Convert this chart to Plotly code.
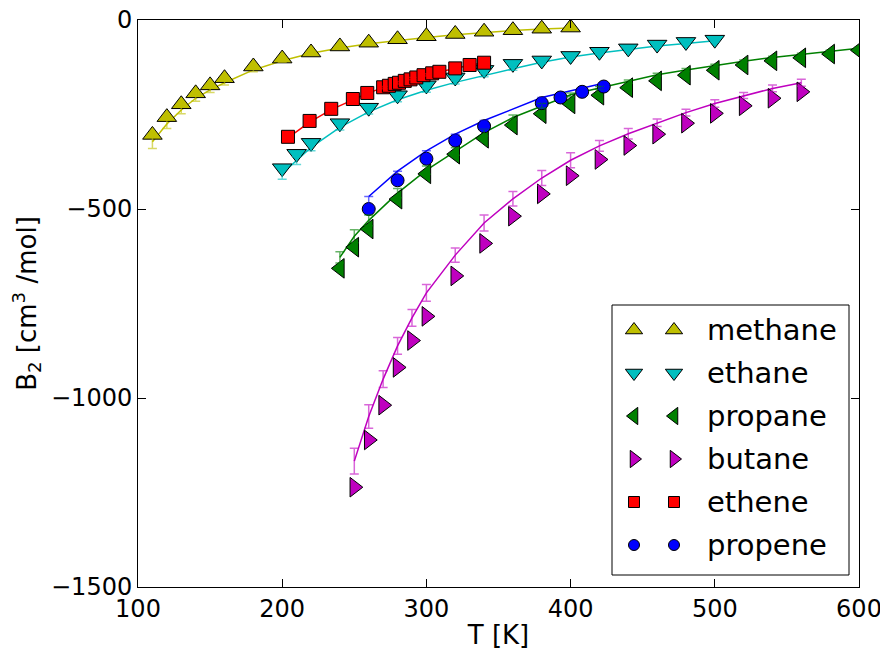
import plotly.graph_objects as go

# ---------------- data ----------------
methane_T = [110, 120, 130, 140, 150, 160, 180, 200, 220, 240, 260, 280, 300, 320, 340, 360, 380, 400]
methane_B_exp = [-304, -257, -223, -194, -173, -154, -123, -102, -86, -70, -60, -51, -43, -37, -31, -27, -23, -20]
methane_B_sim = [-322, -275, -238, -207, -185, -166, -132, -108, -88, -74, -63, -54, -46, -39, -33, -28, -24, -21]
methane_err = [18, 12, 10, 8, 7, 6, 5, 4, 4, 3, 3, 3, 2, 2, 2, 2, 2, 2]

ethane_T = [200, 210, 220, 240, 260, 280, 300, 320, 340, 360, 380, 400, 420, 440, 460, 480, 500]
ethane_B_exp = [-392, -354, -325, -273, -232, -199, -173, -152, -132, -116, -107, -95, -84, -75, -65, -58, -52]
ethane_B_sim = [-406, -372, -337, -284, -243, -211, -186, -165, -146, -129, -112, -98, -87, -78, -69, -62, -55]
ethane_err = [15, 10, 9, 7, 6, 5, 5, 4, 4, 4, 3, 3, 3, 3, 3, 3, 3]

propane_T = [240, 250, 260, 280, 300, 320, 340, 360, 380, 400, 420, 440, 460, 480, 500, 520, 540, 560, 580, 600]
propane_B_exp = [-657, -601, -553, -474, -407, -355, -313, -278, -248, -222, -199, -179, -161, -146, -133, -119, -108, -100, -90, -80]
propane_B_sim = [-628, -572, -530, -458, -397, -348, -298, -258, -227, -198, -180, -163, -145, -132, -120, -109, -99, -91, -83, -75]
propane_err = [15, 17, 14, 12, 11, 10, 9, 7, 6, 5, 4, 4, 4, 4, 3, 3, 3, 3, 3, 3]

butane_T = [250, 260, 270, 280, 290, 300, 320, 340, 360, 380, 400, 420, 440, 460, 480, 500, 520, 540, 560]
butane_B_exp = [-1236, -1111, -1019, -919, -848, -784, -677, -591, -519, -460, -412, -369, -332, -302, -273, -247, -227, -207, -190]
butane_B_sim = [-1167, -1049, -950, -862, -788, -722, -622, -537, -473, -418, -371, -333, -301, -272, -245, -221, -200, -181, -166]
butane_err = [34, 31, 22, 22, 22, 22, 19, 21, 19, 20, 20, 14, 14, 10, 9, 10, 8, 9, 9]

ethene_T_exp = [204, 219, 234, 249, 259, 270, 274, 278, 281, 285, 289, 293, 298, 304, 309, 320, 330, 340]
ethene_B_exp = [-309, -267, -235, -209, -193, -178, -174, -169, -166, -161, -157, -152, -146, -141, -137, -128, -119, -113]
ethene_T_sim = [204, 219, 234, 249, 259, 270, 280, 290, 300, 310, 320, 330, 340]
ethene_B_sim = [-312, -270, -237, -210, -194, -179, -166, -155, -145, -136, -128, -120, -113]
ethene_err = [6, 5, 5, 4, 4, 3, 3, 3, 3, 3, 3, 3, 3]

propene_T_exp = [260, 280, 300, 320, 340, 380, 393, 408, 423]
propene_B_exp = [-500, -424, -367, -319, -281, -220, -205, -190, -176]
propene_T_sim = [260, 280, 300, 320, 340, 380, 422]
propene_B_sim = [-467, -400, -346, -302, -266, -205, -168]
propene_err_minus = [37, 35, 30, 24, 23, 20, 15]
propene_err_plus = [0, 0, 0, 0, 0, 0, 0]

names = ["methane", "ethane", "propane", "butane", "ethene", "propene"]
colors = ["#bfbf00", "#00bfbf", "#008000", "#bf00bf", "#ff0000", "#0000ff"]
err_colors = ["rgba(191,191,0,0.6)", "rgba(0,191,191,0.6)", "rgba(0,128,0,0.6)",
              "rgba(191,0,191,0.6)", "rgba(255,0,0,0.6)", "rgba(0,0,255,0.6)"]
symbols = ["triangle-up", "triangle-down", "triangle-left", "triangle-right", "square", "circle"]
sizes = [17, 17, 17, 17, 13, 13]

series = [
    (methane_T, methane_B_exp, methane_T, methane_B_sim, methane_err, None),
    (ethane_T, ethane_B_exp, ethane_T, ethane_B_sim, ethane_err, None),
    (propane_T, propane_B_exp, propane_T, propane_B_sim, propane_err, None),
    (butane_T, butane_B_exp, butane_T, butane_B_sim, butane_err, None),
    (ethene_T_exp, ethene_B_exp, ethene_T_sim, ethene_B_sim, ethene_err, None),
    (propene_T_exp, propene_B_exp, propene_T_sim, propene_B_sim, propene_err_plus, propene_err_minus),
]

FONT = "DejaVu Sans"
fig = go.Figure()

for i, (Te, Be, Ts, Bs, ep, em) in enumerate(series):
    fig.add_trace(go.Scatter(x=Ts, y=Bs, mode="lines",
                             line=dict(color=colors[i], width=1.5), showlegend=False, hoverinfo="skip"))
for i, (Te, Be, Ts, Bs, ep, em) in enumerate(series):
    fig.add_trace(go.Scatter(x=Te, y=Be, mode="markers", name=names[i], showlegend=False,
                             marker=dict(symbol=symbols[i], size=sizes[i], color=colors[i],
                                         line=dict(color="black", width=1))))
for i, (Te, Be, Ts, Bs, ep, em) in enumerate(series):
    ey = dict(type="data", array=ep, color=err_colors[i], thickness=1.5, width=4.5, visible=True)
    if em is not None:
        ey["symmetric"] = False
        ey["arrayminus"] = em
    fig.add_trace(go.Scatter(x=Ts, y=Bs, mode="markers", showlegend=False, hoverinfo="skip",
                             marker=dict(size=1, color="rgba(0,0,0,0)"), error_y=ey))

# ---------------- layout geometry (page pixels; the page body has an 8px margin) ----------------
OFF = 8
W, H = 888 - OFF, 652 - OFF
L, R, T, B = 138, 859, 20, 587          # plot-area edges in page pixels

# ---------------- custom legend (two markers per entry, like matplotlib) ----------------
leg_x1, leg_x2, leg_text = 634, 674, 705
leg_y0, leg_dy = 330, 43
for i in range(len(names)):
    yy = leg_y0 + i * leg_dy
    fig.add_trace(go.Scatter(x=[leg_x1, leg_x2], y=[yy, yy], mode="markers", xaxis="x2", yaxis="y2",
                             showlegend=False, hoverinfo="skip", cliponaxis=False,
                             marker=dict(symbol=symbols[i], size=sizes[i] - 2, color=colors[i],
                                         line=dict(color="black", width=1))))
    fig.add_annotation(x=leg_text, y=yy, xref="x2", yref="y2", text=names[i], showarrow=False,
                       xanchor="left", yanchor="middle", font=dict(family=FONT, size=29, color="black"))

fig.add_shape(type="rect", xref="x2", yref="y2", x0=612, x1=849, y0=305, y1=575,
              line=dict(color="black", width=1), fillcolor="rgba(255,255,255,0)", layer="above")

axis_common = dict(showline=True, linecolor="black", linewidth=1, mirror="allticks",
                   ticks="inside", ticklen=8, tickwidth=1, tickcolor="black",
                   showgrid=False, zeroline=False, automargin=False, ticklabeloverflow="allow",
                   tickfont=dict(family=FONT, size=24, color="black"))

fig.update_layout(
    template="none",
    width=W, height=H,
    margin=dict(l=L - OFF, r=(W + OFF) - R, t=T - OFF, b=(H + OFF) - B, pad=0),
    paper_bgcolor="white", plot_bgcolor="white",
    showlegend=False,
    font=dict(family=FONT, color="black"),
    xaxis=dict(range=[100, 600], tickvals=[100, 200, 300, 400, 500, 600],
               title=dict(text="T [K]", font=dict(family=FONT, size=26), standoff=4),
               **axis_common),
    yaxis=dict(range=[-1500, 0], tickvals=[-1500, -1000, -500, 0],
               title=dict(text="B<sub>2</sub> [cm<sup>3</sup> /mol]", font=dict(family=FONT, size=26), standoff=14),
               **axis_common),
    xaxis2=dict(range=[L, R], overlaying="x", visible=False, fixedrange=True),
    yaxis2=dict(range=[B, T], overlaying="y", visible=False, fixedrange=True),
)

fig.write_html("out.html")
